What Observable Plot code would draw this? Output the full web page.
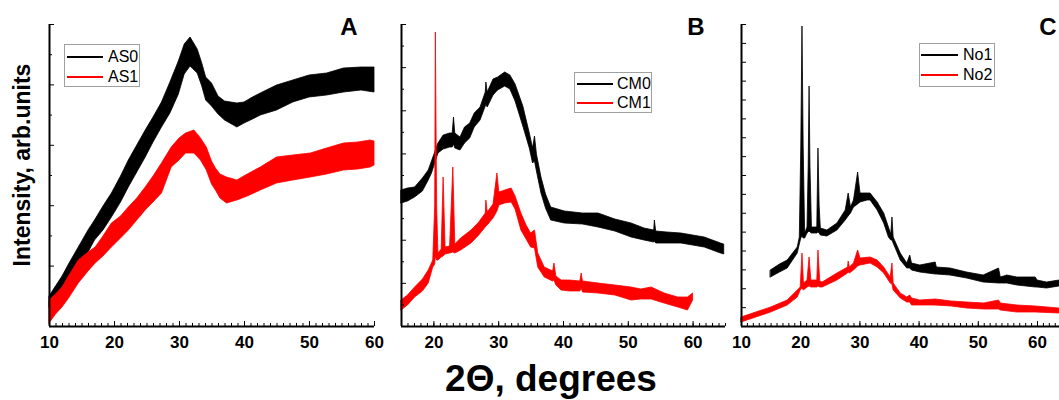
<!DOCTYPE html>
<html><head><meta charset="utf-8">
<script src="https://cdn.jsdelivr.net/npm/d3@7"></script>
<script src="https://cdn.jsdelivr.net/npm/@observablehq/plot@0.6"></script>
<style>
body{margin:0;background:#fff;}
#chart{position:relative;width:1059px;height:400px;overflow:hidden;background:#fff;font-family:'Liberation Sans',Arial,Helvetica,sans-serif;}
.panel{position:absolute;top:0;}
.panel svg{max-width:none !important;}
.legend{position:absolute;border:1px solid #a0a0a0;background:#fff;box-sizing:border-box;}
.legend .ln{position:absolute;height:2px;}
.legend .lt{position:absolute;font-size:16px;line-height:18px;color:#000;}
#overlay{position:absolute;left:0;top:0;pointer-events:none;}
</style></head><body><div id="chart"></div>
<script>
// ---- data: [2theta (deg), lower edge, upper edge] of each noisy trace, intensity in arb. units ----
const AS0 = [[10,19,30],[11,22,40],[12,30,50],[13,42,62],[14.5,59,79],[16,74,96],[17,86,106],[18.3,96,120],[19.6,109,133],[21,124,150],[22.2,139,166],[23.5,154,181],[24.8,169,196],[26,184,209],[27.3,199,224],[28.6,213,244],[29.9,232,265],[30.8,252,282],[31.7,260,289],[32.8,253,277],[33.5,240,263],[34.1,226,249],[35,220,243],[36,212,230],[37,206,225],[38.9,199,223],[40,203,224],[41.3,207,229],[42.5,211,233],[45,216,241],[47.5,224,246],[50,229,251],[52.7,231,253],[55.3,234,258],[58,236,259],[60,234,259]];
const AS1 = [[10,3,26],[11,12,32],[12,19,39],[13,28,50],[14.5,43,66],[16,55,74],[17.1,63,79],[18.3,70,90],[19.6,79,103],[21,88,110],[22.2,96,119],[23.5,106,128],[24.8,116,139],[26,124,150],[27.3,133,163],[28.8,159,179],[30,166,188],[31,173,193],[32.3,173,196],[33.3,166,188],[34.2,156,179],[35,142,165],[35.6,136,158],[36.3,128,152],[37.3,123,149],[38.9,126,146],[40.5,130,152],[42.5,136,159],[45,143,169],[47.5,146,171],[50.2,149,173],[52.7,152,178],[55.3,156,183],[57.5,157,184],[59.4,159,186],[60,161,185]];
const CM0 = [[15,123,136],[16,125,138],[17.1,129,139],[18.3,135,148],[19.2,146,156],[19.7,153,165],[20.7,173,183],[21.5,177,191],[22.5,179,193],[22.9,179,193],[23.1,182,209],[23.3,178,193],[24.1,176,189],[24.8,183,199],[25.6,188,203],[26.3,199,213],[27.2,206,219],[28,220,234],[28.1,222,244],[28.3,219,234],[29.2,231,247],[29.9,236,249],[31,240,254],[31.8,237,251],[32.6,225,242],[33.8,200,220],[34.8,178,193],[35.3,163,178],[35.6,165,190],[35.9,155,172],[36.6,133,149],[37.3,118,132],[38.1,106,119],[40.2,103,115],[43,102,113],[45.4,99,113],[48,95,107],[50.5,89,103],[52.5,86,98],[54,84,96],[54.1,85,106],[54.3,83,95],[56,83,94],[58.2,83,93],[60,81,91],[61.8,79,89],[64.3,73,83],[64.8,72,82]];
const CM1 = [[15,16,26],[16,21,31],[17.1,29,39],[18.3,35,47],[19.2,43,56],[19.9,59,66],[20.2,62,120],[20.3,70,294],[20.5,66,120],[20.7,66,73],[21.2,69,77],[21.5,70,149],[21.8,72,79],[22.5,73,80],[23,74,159],[23.3,73,82],[24.2,76,88],[25.8,83,96],[27,91,104],[28,99,113],[28.1,100,126],[28.3,101,114],[29.2,108,122],[29.8,115,153],[30.1,121,134],[31,123,136],[32,124,138],[32.6,117,130],[33.5,96,113],[34.3,87,101],[35,79,93],[35.6,78,96],[36.1,59,73],[37.1,49,59],[38.4,45,55],[38.6,46,63],[38.9,41,50],[39.7,36,46],[41,35,46],[42.6,35,45],[42.8,38,53],[43,34,45],[45.4,33,43],[48,31,41],[50.5,26,39],[52,27,37],[53.6,27,39],[55.6,23,33],[57.7,19,29],[59.2,16,29],[60,26,33]];
const NO1 = [[14.95,49,56],[16.5,54,62],[17.8,58,66],[19.5,73,79],[19.85,82,89],[20.1,88,180],[20.3,90,300],[20.5,88,180],[20.75,88,93],[21.15,93,99],[21.35,94,160],[21.5,95,240],[21.65,94,160],[21.9,93,99],[22.8,93,99],[23,94,178],[23.2,93,120],[23.4,91,98],[24.5,90,96],[26.2,96,103],[27.6,106,116],[28.1,110,133],[28.5,113,119],[29,119,126],[29.7,122,154],[30.1,124,133],[31.3,126,133],[31.8,126,133],[33,116,124],[34.1,103,113],[34.9,89,99],[35.3,86,92],[35.5,86,109],[35.7,83,89],[36.9,66,73],[38,58,63],[38.5,58,71],[38.8,56,63],[40.2,54,61],[42.8,52,64],[43,52,59],[45.3,51,58],[48.1,48,54],[50.9,44,51],[53.5,43,58],[53.8,43,49],[54.9,43,51],[56.6,41,49],[59.7,39,49],[60,39,46],[61.6,38,44],[63.7,40,46]];
const NO2 = [[10,4,9],[12.5,9,14],[15,14,19],[17.8,21,26],[19.5,29,36],[20,36,39],[20.3,38,73],[20.55,36,43],[21.15,39,46],[21.5,40,69],[21.8,39,46],[22.8,39,46],[23,40,76],[23.3,39,45],[23.7,39,44],[26.2,46,53],[28,53,59],[28.1,54,65],[28.3,53,59],[29,56,63],[29.7,60,76],[30.1,61,68],[31.8,63,69],[33,59,66],[34.1,53,59],[35.2,43,49],[35.5,42,63],[35.7,36,43],[36.9,28,33],[38,24,29],[38.5,24,31],[38.8,21,28],[40.2,21,26],[42.8,21,27],[45.5,20,25],[48.1,18,24],[51,17,23],[53.5,17,26],[53.8,16,23],[56.6,14,21],[59.7,14,20],[63.7,13,18]];

// tick values
const xLabelsA = [10, 20, 30, 40, 50, 60];
const xLabelsB = [20, 30, 40, 50, 60];
const xLabelsC = [10, 20, 30, 40, 50, 60];
const names = {A: ["AS0", "AS1"], B: ["CM0", "CM1"], C: ["No1", "No2"]};
const colors = ["#000000", "#ff0000"];
const YTOP = 302;

const FONT = "'Liberation Sans', Arial, Helvetica, sans-serif";
const chart = document.getElementById("chart");

function yTicks(n) { return d3.range(0, n + 1).map(i => i * YTOP / n); }

function panel(cfg) {
  const marks = [];
  cfg.series.forEach((s, i) => marks.push(Plot.areaY(s, {x: d => d[0], y1: d => d[1], y2: d => d[2], fill: colors[i], stroke: colors[i], strokeWidth: 0.8})));
  const xMinor = d3.range(Math.ceil(cfg.xDomain[0]), cfg.xDomain[1] + 1, 1);
  const xMajor = xMinor.filter(v => v % 10 === 0);
  const yAll = yTicks(cfg.yN);
  const yMaj = cfg.yAllMajor ? yAll : yAll.filter((v, i) => i % 2 === 0);
  const yMin = cfg.yAllMajor ? [] : yAll.filter((v, i) => i % 2 === 1);
  marks.push(Plot.axisX({ticks: xMinor, tickSize: -3, tickFormat: () => "", label: null}));
  marks.push(Plot.axisX({ticks: xMajor, tickSize: -5, tickFormat: () => "", label: null}));
  marks.push(Plot.axisX({ticks: cfg.xLabels, tickSize: 0, tickPadding: 9, label: null, fontSize: 17, fontWeight: "bold"}));
  if (yMin.length) marks.push(Plot.axisY({ticks: yMin, tickSize: -3, tickFormat: () => "", label: null}));
  marks.push(Plot.axisY({ticks: yMaj, tickSize: -5, tickFormat: () => "", label: null}));
  marks.push(Plot.ruleX([cfg.xDomain[0]], {strokeWidth: 2}));
  marks.push(Plot.ruleY([0], {strokeWidth: 2}));
  const svg = Plot.plot({
    width: cfg.width, height: 360,
    marginLeft: cfg.mL, marginRight: cfg.mR, marginTop: 24, marginBottom: 34,
    x: {domain: cfg.xDomain}, y: {domain: [0, YTOP]},
    style: {background: "transparent", fontFamily: FONT, fontSize: "17px", fontWeight: "bold", color: "#000", overflow: "visible", maxWidth: "none"},
    marks
  });
  const wrap = document.createElement("div");
  wrap.className = "panel";
  wrap.style.left = cfg.left + "px";
  wrap.style.width = cfg.width + "px";
  wrap.appendChild(svg);
  chart.appendChild(wrap);
}

panel({left: 0, width: 390, mL: 49, mR: 16, xDomain: [10, 60], xLabels: xLabelsA, yN: 10, series: [AS0, AS1]});
panel({left: 390, width: 340, mL: 11, mR: 5, xDomain: [15, 65], xLabels: xLabelsB, yN: 14, series: [CM0, CM1]});
panel({left: 730, width: 360, mL: 11, mR: 23.4, xDomain: [10, 65], xLabels: xLabelsC, yN: 16, yAllMajor: true, series: [NO1, NO2]});

function legend(left, top, w, h, lines, lineX0, lineX1, textX, labels) {
  const box = document.createElement("div");
  box.className = "legend";
  Object.assign(box.style, {left: left + "px", top: top + "px", width: w + "px", height: h + "px"});
  labels.forEach((lab, i) => {
    const ln = document.createElement("div");
    ln.className = "ln";
    Object.assign(ln.style, {left: lineX0 + "px", width: (lineX1 - lineX0) + "px", top: (lines[i] - 1) + "px", background: colors[i]});
    box.appendChild(ln);
    const t = document.createElement("div");
    t.className = "lt";
    t.textContent = lab;
    Object.assign(t.style, {left: textX + "px", top: (lines[i] - 9) + "px"});
    box.appendChild(t);
  });
  chart.appendChild(box);
}
legend(64, 44, 76, 43, [12, 32], 2, 38, 43, names.A);
legend(574, 72, 78, 41, [11, 30], 2, 38, 42, names.B);
legend(919, 43, 76, 44, [11, 31], 1, 38, 43, names.C);

// overlay texts
const ns = "http://www.w3.org/2000/svg";
const ov = document.createElementNS(ns, "svg");
ov.setAttribute("id", "overlay");
ov.setAttribute("width", 1059); ov.setAttribute("height", 400);
function txt(x, y, s, size, extra) {
  const t = document.createElementNS(ns, "text");
  t.setAttribute("x", x); t.setAttribute("y", y);
  t.setAttribute("text-anchor", "middle");
  t.setAttribute("font-family", FONT);
  t.setAttribute("font-weight", "bold");
  t.setAttribute("font-size", size);
  if (extra) t.setAttribute("transform", extra);
  t.textContent = s;
  ov.appendChild(t);
}
txt(349, 35, "A", 24);
txt(696, 35, "B", 24);
txt(1048, 35, "C", 24);
txt(551, 391, "2\u0398, degrees", 37);
txt(0, 0, "Intensity, arb.units", 23, "translate(30,165) rotate(-90)");
chart.appendChild(ov);
</script></body></html>
